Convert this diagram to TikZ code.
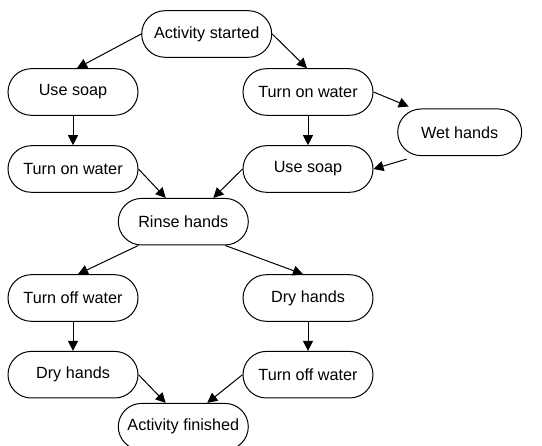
\documentclass[tikz,border=0pt]{standalone}
\usepackage{fontspec}
\setmainfont{Liberation Sans}
\usetikzlibrary{arrows.meta,shapes.misc}
\begin{document}
\begin{tikzpicture}[x=1pt,y=-1pt,
  act/.style={draw=black, line width=1pt, rounded rectangle,
    minimum width=130pt, minimum height=46.6pt, inner sep=0pt,
    font=\fontsize{16.2}{19}\selectfont},
  flow/.style={draw=black, line width=1pt, -{Triangle[length=10pt,width=10pt]}}]
\useasboundingbox (0,0) rectangle (542,446);

% activities
\node[act] (start) at (206.7,34) {Activity started};
\node[act] (soapA) at (73,92) {Use soap};
\node[act] (waterB) at (308,92) {Turn on water};
\node[act, minimum width=124pt] (wet) at (459.7,132.3) {Wet hands};
\node[act] (waterA) at (73,169) {Turn on water};
\node[act] (soapB) at (308,169) {Use soap};
\node[act] (rinse) at (183.3,221.7) {Rinse hands};
\node[act] (offA) at (73,298) {Turn off water};
\node[act] (dryB) at (308,298) {Dry hands};
\node[act] (dryA) at (73,374.7) {Dry hands};
\node[act] (offB) at (308,374.7) {Turn off water};
\node[act] (finish) at (183.3,426.7) {Activity finished};

% transitions
\draw[flow] (start.west) -- ([xshift=4pt]soapA.north);
\draw[flow] (start.east) -- ([xshift=-1pt]waterB.north);
\draw[flow] (soapA.south) -- (waterA.north);
\draw[flow] (waterB.south) -- (soapB.north);
\draw[flow] (waterB.east) -- ([xshift=-51pt,yshift=2pt]wet.north);
\draw[flow] ([xshift=-53pt,yshift=-3pt]wet.south) -- (soapB.east);
\draw[flow] (waterA.east) -- ([xshift=-17.6pt]rinse.north);
\draw[flow] (soapB.west) -- ([xshift=30pt]rinse.north);
\draw[flow] ([xshift=-45pt]rinse.south) -- ([xshift=5pt]offA.north);
\draw[flow] ([xshift=42pt]rinse.south) -- ([xshift=-5pt]dryB.north);
\draw[flow] (offA.south) -- (dryA.north);
\draw[flow] (dryB.south) -- (offB.north);
\draw[flow] (dryA.east) -- ([xshift=-17.6pt]finish.north);
\draw[flow] (offB.west) -- ([xshift=24pt]finish.north);
\end{tikzpicture}
\end{document}
